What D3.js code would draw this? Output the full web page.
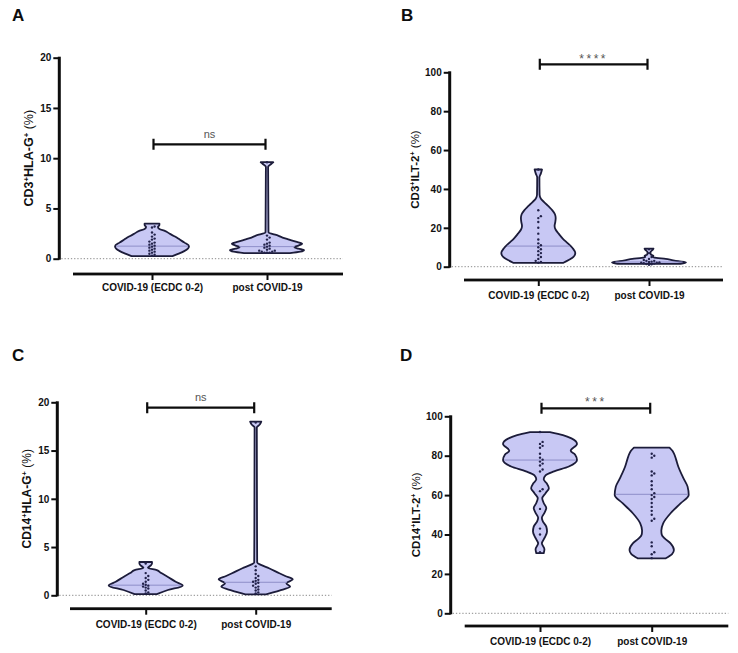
<!DOCTYPE html>
<html><head><meta charset="utf-8">
<script src="https://cdn.jsdelivr.net/npm/d3@7"></script>
<style>body{margin:0;background:#fff} svg{display:block} text{font-family:"Liberation Sans",Arial,sans-serif}</style>
</head><body><svg id="c" width="738" height="653"></svg>
<script>
// ---------- data ----------
const categories = ["COVID-19 (ECDC 0-2)", "post COVID-19"];
const panelLetters = ["A", "B", "C", "D"];
const yTitleMarkers = [["CD3", "HLA-G"], ["CD3", "ILT-2"], ["CD14", "HLA-G"], ["CD14", "ILT-2"]];
const yMax = [20, 100, 20, 100];
const yTickValues = [[0, 5, 10, 15, 20], [0, 20, 40, 60, 80, 100], [0, 5, 10, 15, 20], [0, 20, 40, 60, 80, 100]];
const significance = ["ns", "****", "ns", "***"];
const medians = [[1.25, 1.2], [10.6, 2.4], [1.05, 1.35], [77.8, 60.4]];

// individual values (%)
const pointsA1 = [3.2, 3.1, 2.6, 2.4, 2.2, 2.0, 1.9, 1.7, 1.6, 1.5, 1.4, 1.3, 1.2, 1.1, 1.0, 0.9, 0.8, 0.7, 0.6, 0.5, 0.4, 0.3];
const pointsA2 = [9.6, 2.3, 2.1, 1.9, 1.6, 1.5, 1.4, 1.3, 1.2, 1.1, 1.0, 0.9, 0.8, 0.8, 0.7, 0.7, 0.6, 0.6, 0.6];
const pointsB1 = [50, 29, 26, 25, 23, 20, 17, 14, 12, 11, 10, 9, 8, 7, 6, 5, 4, 3, 2.5, 2];
const pointsB2 = [9, 7, 5, 4, 3.5, 3, 3, 2.6, 2.4, 2.2, 2, 2, 1.8, 1.6, 1.4, 1.2, 1];
const pointsC1 = [3.3, 2.3, 2.0, 1.8, 1.6, 1.4, 1.2, 1.1, 1.0, 0.9, 0.8, 0.7, 0.5, 0.3, 0.2];
const pointsC2 = [17.9, 3.0, 2.6, 2.2, 2.0, 1.8, 1.6, 1.5, 1.4, 1.3, 1.2, 1.0, 0.9, 0.8, 0.6, 0.5, 0.3, 0.2];
const pointsD1 = [92, 87, 86, 85, 84, 81, 79, 78, 77, 76, 75, 73, 72, 63, 62, 53, 43, 40, 31];
const pointsD2 = [81, 80, 79, 72, 71, 70, 67, 65, 63, 61, 60, 59, 58, 56, 54, 52, 50, 48, 47, 36, 34, 31, 30, 28];

// violin outlines: [value, relative half-width]
const profileA1 = [[0.25, 0.55], [0.5, 0.72], [0.75, 0.87], [1.0, 0.97], [1.25, 1.0], [1.6, 0.88], [1.9, 0.75], [2.2, 0.62], [2.5, 0.47], [2.75, 0.36], [2.95, 0.2], [3.15, 0.16], [3.35, 0.2], [3.5, 0.2]];
const profileA2 = [[0.55, 0.62], [0.7, 0.9], [0.85, 1.0], [1.0, 0.85], [1.15, 0.74], [1.3, 0.85], [1.5, 0.95], [1.7, 0.78], [1.9, 0.6], [2.1, 0.42], [2.3, 0.3], [2.45, 0.16], [2.6, 0.04], [9.15, 0.03], [9.45, 0.12], [9.6, 0.17]];
const profileB1 = [[2.0, 0.68], [3.4, 0.82], [5, 0.95], [7, 1.0], [9.5, 0.93], [12, 0.8], [14.5, 0.66], [17, 0.55], [19, 0.47], [21, 0.44], [23, 0.46], [25, 0.47], [27, 0.45], [29, 0.38], [31, 0.28], [33, 0.17], [35, 0.07], [37, 0.035], [46, 0.03], [48, 0.07], [50, 0.1]];
const profileB2 = [[1.5, 0.85], [2.2, 1.0], [2.8, 0.8], [3.4, 0.62], [4.0, 0.45], [4.5, 0.2], [5.0, 0.1], [5.6, 0.12], [6.2, 0.05], [7.5, 0.04], [8.5, 0.09], [9.3, 0.12]];
const profileC1 = [[0.13, 0.3], [0.55, 0.6], [1.0, 1.0], [1.4, 0.81], [1.93, 0.59], [2.3, 0.42], [2.6, 0.3], [2.85, 0.06], [3.1, 0.14], [3.3, 0.17], [3.45, 0.17]];
const profileC2 = [[0.1, 0.28], [0.48, 0.64], [0.9, 0.93], [1.24, 0.83], [1.66, 1.0], [2.0, 0.8], [2.28, 0.64], [2.8, 0.36], [3.15, 0.14], [3.4, 0.04], [17.4, 0.03], [17.7, 0.11], [18.0, 0.15]];
const profileD1 = [[30.5, 0.1], [32.5, 0.12], [35.5, 0.05], [38.5, 0.13], [41.5, 0.19], [44, 0.17], [46.5, 0.08], [48.5, 0.05], [51, 0.12], [53.5, 0.17], [56, 0.1], [58.4, 0.06], [61, 0.15], [63.5, 0.24], [66, 0.18], [68, 0.1], [70, 0.15], [72, 0.38], [74.5, 0.78], [77.8, 1.0], [80.5, 0.95], [82.5, 0.83], [86, 1.0], [88.8, 0.85], [90.5, 0.62], [92, 0.27]];
const profileD2 = [[27.9, 0.38], [30, 0.55], [32.1, 0.6], [35.5, 0.51], [38, 0.35], [40, 0.27], [42, 0.26], [45.7, 0.31], [50.8, 0.51], [55.8, 0.78], [60, 1.0], [64.3, 0.97], [68.5, 0.86], [74.4, 0.72], [78, 0.66], [81.2, 0.6], [82.5, 0.56], [84.1, 0.48]];

const points = [[pointsA1, pointsA2], [pointsB1, pointsB2], [pointsC1, pointsC2], [pointsD1, pointsD2]];
const profiles = [[profileA1, profileA2], [profileB1, profileB2], [profileC1, profileC2], [profileD1, profileD2]];

// ---------- layout ----------
const layout = [
  {ax: 59.3, yTop: 57.7, y0: 258.7, xa: 274, xl: 73, xr: 343, cx: [152, 267], by: 144.3, sy: 137.5, lx: 12, ly: 21, tx: 29, tf: 12.5, lby: 290.6},
  {ax: 449.7, yTop: 72.3, y0: 266.7, xa: 280, xl: 464, xr: 723, cx: [538.3, 649], by: 64.3, sy: 62.5, lx: 401, ly: 21, tx: 415, tf: 11.5, lby: 298.6},
  {ax: 57.3, yTop: 402.3, y0: 595.3, xa: 608.7, xl: 70, xr: 331.7, cx: [145.7, 255.7], by: 407.7, sy: 401, lx: 12, ly: 361, tx: 27, tf: 12, lby: 627.6},
  {ax: 450.7, yTop: 416.3, y0: 613.3, xa: 626, xl: 464.7, xr: 728.3, cx: [540, 651.7], by: 408.3, sy: 405.5, lx: 400, ly: 361, tx: 415.7, tf: 11.5, lby: 645.3}
];
const HW = 37;
const FILL = "#c8c8f4", STROKE = "#1c1c3a", INK = "#0d0d0d";

const svg = d3.select("#c");

function swarm(vals, y, r) {
  const placed = [];
  vals.slice().sort((a, b) => a - b).forEach(v => {
    const py = y(v);
    let k = 0, x = 0;
    while (true) {
      const off = k === 0 ? 0 : (k % 2 ? 1 : -1) * Math.ceil(k / 2) * r * 2;
      if (placed.every(p => Math.hypot(p.x - off, p.y - py) >= r * 2)) { x = off; break; }
      k++;
    }
    placed.push({x, y: py});
  });
  return placed;
}

layout.forEach((L, i) => {
  const g = svg.append("g");
  const y = d3.scaleLinear().domain([0, yMax[i]]).range([L.y0, L.yTop]);
  const x = d3.scalePoint().domain(categories).range(L.cx);

  g.append("text").attr("x", L.lx).attr("y", L.ly).text(panelLetters[i])
    .attr("font-size", 17).attr("font-weight", "bold").attr("fill", INK);

  g.append("line").attr("x1", L.ax + 2).attr("x2", L.xr).attr("y1", y(0)).attr("y2", y(0))
    .attr("stroke", "#8a8a8a").attr("stroke-width", 1).attr("stroke-dasharray", "1.3,1.9");

  const ya = g.append("g").attr("transform", `translate(${L.ax},0)`)
    .call(d3.axisLeft(y).tickValues(yTickValues[i]).tickSize(6).tickSizeOuter(0).tickPadding(2));
  ya.select(".domain").remove();
  ya.selectAll(".tick line").style("stroke", INK).style("stroke-width", "2px");
  ya.selectAll(".tick text").attr("font-size", 10).attr("font-weight", "bold").style("fill", "#111")
    .attr("font-family", '"Liberation Sans",Arial,sans-serif');
  // axis spine as filled bar
  g.append("rect").attr("x", L.ax - 1.5).attr("width", 3)
    .attr("y", y(yMax[i]) - 1).attr("height", y(0) - y(yMax[i]) + 2).attr("fill", INK);

  const t = g.append("text").attr("transform", `translate(${L.tx + 4},${(L.y0 + L.yTop) / 2}) rotate(-90)`)
    .attr("text-anchor", "middle").attr("font-size", L.tf).attr("font-weight", "bold").attr("fill", "#111");
  t.append("tspan").text(yTitleMarkers[i][0]);
  t.append("tspan").text("+").attr("font-size", L.tf * 0.62).attr("baseline-shift", "super");
  t.append("tspan").text(yTitleMarkers[i][1]);
  t.append("tspan").text("+").attr("font-size", L.tf * 0.62).attr("baseline-shift", "super");
  t.append("tspan").text(" (%)").attr("font-weight", "normal");

  g.append("rect").attr("x", L.xl).attr("width", L.xr - L.xl).attr("y", L.xa - 1.4).attr("height", 2.8).attr("fill", INK);
  const xa = g.append("g").attr("transform", `translate(0,${L.xa})`)
    .call(d3.axisBottom(x).tickSize(6).tickSizeOuter(0).tickPadding(0));
  xa.select(".domain").remove();
  xa.selectAll(".tick line").style("stroke", INK).style("stroke-width", "2px");
  xa.selectAll(".tick text").attr("font-size", 10).attr("font-weight", "bold").style("fill", "#111")
    .attr("font-family", '"Liberation Sans",Arial,sans-serif')
    .attr("dy", null).attr("y", L.lby - L.xa);

  categories.forEach((c, j) => {
    const cx = x(c);
    const prof = profiles[i][j];
    const area = d3.area().curve(d3.curveMonotoneY)
      .y(d => y(d[0])).x0(d => cx - d[1] * HW).x1(d => cx + d[1] * HW);
    g.append("path").attr("d", area(prof)).attr("fill", FILL)
      .attr("stroke", STROKE).attr("stroke-width", 1.8).attr("stroke-linejoin", "round");
    const wAt = d3.scaleLinear().domain(prof.map(d => d[0])).range(prof.map(d => d[1])).clamp(true);
    const m = medians[i][j];
    g.append("line").attr("x1", cx - wAt(m) * HW + 1).attr("x2", cx + wAt(m) * HW - 1)
      .attr("y1", y(m)).attr("y2", y(m)).attr("stroke", "#8e8ec8").attr("stroke-width", 1);
    swarm(points[i][j], y, 1.3).forEach(p => {
      g.append("circle").attr("cx", cx + p.x).attr("cy", p.y).attr("r", 1.2).attr("fill", "#22224a");
    });
  });

  const bx1 = x(categories[0]) + 1.5, bx2 = x(categories[1]) - 1.5;
  g.append("path").attr("d", `M${bx1},${L.by - 5.5}V${L.by + 5.5}M${bx1},${L.by}H${bx2}M${bx2},${L.by - 5.5}V${L.by + 5.5}`)
    .attr("fill", "none").attr("stroke", INK).attr("stroke-width", 2.2);
  const sig = significance[i];
  g.append("text").attr("x", (bx1 + bx2) / 2).attr("y", L.sy).attr("text-anchor", "middle")
    .attr("font-size", sig === "ns" ? 11 : 12).attr("fill", "#555")
    .attr("letter-spacing", sig === "ns" ? 0 : 2.5).text(sig);
});
</script></body></html>
